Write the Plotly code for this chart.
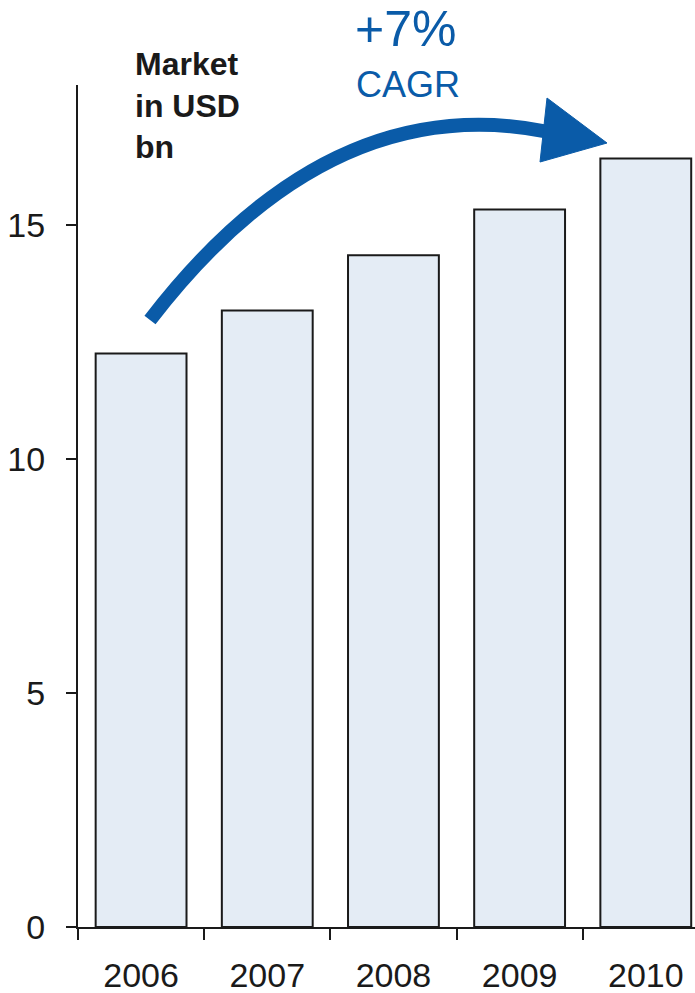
import plotly.graph_objects as go

years = ["2006", "2007", "2008", "2009", "2010"]
market_usd_bn = [12.26, 13.18, 14.36, 15.34, 16.43]
y_ticks = [0, 5, 10, 15]

x_pos = list(range(len(years)))

W, H = 695, 993
ML, MR, MT, MB = 78, 0, 85, 66
X0, X1 = -0.5, 4.39
Y0, Y1 = 0, 18

BLUE = "#0A5BA8"
INK = "#1a1a1a"
FONT = "Liberation Sans, Arial, sans-serif"

fig = go.Figure()
fig.add_trace(go.Bar(
    x=x_pos, y=market_usd_bn, width=0.72,
    marker=dict(color="#E4ECF5", line=dict(color=INK, width=2)),
    hoverinfo="skip",
))

# Curved CAGR arrow (decoration) in data coordinates
pw = W - ML - MR
ph = H - MT - MB
def px2d(px, py):
    return (X0 + (px - ML) / pw * (X1 - X0), Y1 - (py - MT) / ph * (Y1 - Y0))

p0 = px2d(150, 320)
p1 = px2d(329, 87)
p2 = px2d(549, 132)
fig.add_shape(type="path",
              path=f"M {p0[0]},{p0[1]} Q {p1[0]},{p1[1]} {p2[0]},{p2[1]}",
              xref="x", yref="y", line=dict(color=BLUE, width=14))
a = px2d(547, 98)
b = px2d(607, 143)
c = px2d(540, 162)
fig.add_shape(type="path",
              path=f"M {a[0]},{a[1]} L {b[0]},{b[1]} L {c[0]},{c[1]} Z",
              xref="x", yref="y", fillcolor=BLUE, line=dict(color=BLUE, width=1))

# x-axis line extension to the left of the y axis
fig.add_shape(type="line", xref="paper", yref="y",
              x0=(66 - ML) / pw, x1=0, y0=0, y1=0,
              line=dict(color=INK, width=2))

def paper_y(py):
    return 1 - (py - MT) / ph

def paper_x(px):
    return (px - ML) / pw

fig.add_annotation(text="<b>Market<br>in USD<br>bn</b>", xref="paper", yref="paper",
                   x=paper_x(133), y=paper_y(44), xanchor="left", yanchor="top",
                   align="left", showarrow=False,
                   font=dict(family=FONT, size=32, color=INK))
fig.add_annotation(text="+7%", xref="paper", yref="paper",
                   x=paper_x(353), y=paper_y(-1), xanchor="left", yanchor="top",
                   showarrow=False, font=dict(family=FONT, size=50, color=BLUE))
fig.add_annotation(text="CAGR", xref="paper", yref="paper",
                   x=paper_x(354), y=paper_y(62), xanchor="left", yanchor="top",
                   showarrow=False, font=dict(family=FONT, size=36, color=BLUE))

fig.update_layout(
    width=W, height=H,
    margin=dict(l=ML, r=MR, t=MT, b=MB, pad=0),
    paper_bgcolor="white", plot_bgcolor="white",
    showlegend=False,
    font=dict(family=FONT, color=INK),
    xaxis=dict(
        range=[X0, X1], tickvals=x_pos, ticktext=years,
        ticks="", showgrid=False, zeroline=False, automargin=False,
        showline=True, linecolor=INK, linewidth=2,
        tickfont=dict(size=34, color=INK),
        ticklabelstandoff=17,
        minor=dict(tickvals=[-0.5, 0.5, 1.5, 2.5, 3.5], ticks="outside",
                   ticklen=11, tickwidth=2, tickcolor=INK, showgrid=False),
    ),
    yaxis=dict(
        range=[Y0, Y1], tickvals=y_ticks, automargin=False,
        ticks="outside", ticklen=10, tickwidth=2, tickcolor=INK,
        showgrid=False, zeroline=False,
        showline=True, linecolor=INK, linewidth=2,
        tickfont=dict(size=34, color=INK),
        ticklabelstandoff=14,
    ),
)

fig.write_html("out.html")
